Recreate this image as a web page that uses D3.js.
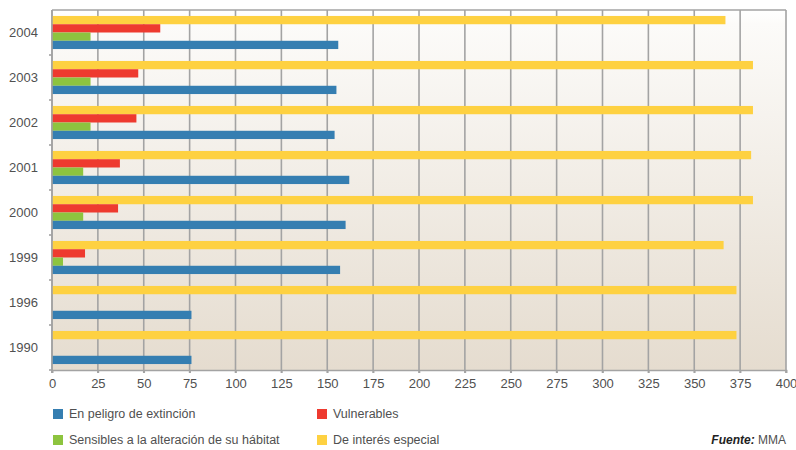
<!DOCTYPE html>
<html>
<head>
<meta charset="utf-8">
<script src="https://cdn.jsdelivr.net/npm/d3@7/dist/d3.min.js"></script>
<style>
  html, body { margin: 0; padding: 0; background: #ffffff; }
  svg { display: block; }
  text { font-family: "Liberation Sans", "DejaVu Sans", sans-serif; fill: #505050; }
</style>
</head>
<body>
<svg id="chart" width="796" height="450"></svg>
<script>
// Years, top to bottom
const years = ["2004", "2003", "2002", "2001", "2000", "1999", "1996", "1990"];

// Species counts per category of protection
const enPeligro   = [156, 155, 154, 162, 160, 157, 76, 76];
const vulnerables = [59, 47, 46, 37, 36, 18, 0, 0];
const sensibles   = [21, 21, 21, 17, 17, 6, 0, 0];
const interes     = [367, 382, 382, 381, 382, 366, 373, 373];

const xTicks = [0, 25, 50, 75, 100, 125, 150, 175, 200, 225, 250, 275, 300, 325, 350, 375, 400];

// Series stacked within each band, top to bottom
const seriesNames = ["De interés especial", "Vulnerables", "Sensibles a la alteración de su hábitat", "En peligro de extinción"];
const seriesValues = [interes, vulnerables, sensibles, enPeligro];
const seriesColors = ["#fed141", "#ee3a2f", "#8dc43f", "#357eb1"];

// Legend order (two columns, two rows)
const legendItems = [
  { name: "En peligro de extinción", color: "#357eb1" },
  { name: "Vulnerables", color: "#ee3a2f" },
  { name: "Sensibles a la alteración de su hábitat", color: "#8dc43f" },
  { name: "De interés especial", color: "#fed141" }
];

const svg = d3.select("#chart");
const plotL = 52, plotR = 786, plotT = 10, plotB = 370;

const x = d3.scaleLinear().domain([0, 400]).range([plotL, plotR]);
const y = d3.scaleBand().domain(years).range([plotT, plotB]).paddingInner(0).paddingOuter(0);
const inner = d3.scaleBand().domain(d3.range(seriesNames.length))
  .range([0, y.bandwidth()]).paddingOuter(0.72).paddingInner(0);

// Plot background gradient
const defs = svg.append("defs");
const grad = defs.append("linearGradient").attr("id", "bg").attr("x1", 0).attr("y1", 0).attr("x2", 0).attr("y2", 1);
grad.append("stop").attr("offset", "0%").attr("stop-color", "#ffffff");
grad.append("stop").attr("offset", "4%").attr("stop-color", "#fcfbf9");
grad.append("stop").attr("offset", "100%").attr("stop-color", "#e5dccf");

svg.append("rect")
  .attr("x", plotL).attr("y", plotT)
  .attr("width", plotR - plotL).attr("height", plotB - plotT)
  .attr("fill", "url(#bg)");

// Vertical gridlines
svg.append("g")
  .selectAll("line")
  .data(xTicks)
  .join("line")
  .attr("x1", d => x(d)).attr("x2", d => x(d))
  .attr("y1", plotT).attr("y2", plotB + 3)
  .attr("stroke", "#a3a3a3")
  .attr("stroke-width", 1.6);

// Top border
svg.append("line")
  .attr("x1", plotL).attr("x2", plotR)
  .attr("y1", plotT).attr("y2", plotT)
  .attr("stroke", "#a3a3a3").attr("stroke-width", 1.6);

// Bars
seriesValues.forEach((vals, si) => {
  svg.append("g")
    .selectAll("rect")
    .data(years.map((yr, i) => ({ yr, v: vals[i] })).filter(d => d.v > 0))
    .join("rect")
    .attr("x", x(0))
    .attr("y", d => y(d.yr) + inner(si))
    .attr("width", d => x(d.v) - x(0))
    .attr("height", inner.bandwidth())
    .attr("fill", seriesColors[si]);
});

// X axis
const xAxis = svg.append("g")
  .attr("transform", `translate(0,${plotB})`)
  .call(d3.axisBottom(x).tickValues(xTicks).tickSize(3).tickPadding(6));
xAxis.select(".domain").attr("stroke", "#a3a3a3").attr("stroke-width", 1.6);
xAxis.selectAll(".tick line").attr("stroke", "#a3a3a3").attr("stroke-width", 1.6);
xAxis.selectAll(".tick text")
  .attr("font-family", "Liberation Sans, sans-serif")
  .attr("font-size", 13).attr("fill", "#505050");

// Y axis: category labels, ticks between bands
const yAxis = svg.append("g").attr("transform", `translate(${plotL},0)`);
yAxis.append("line")
  .attr("x1", 0).attr("x2", 0).attr("y1", plotT).attr("y2", plotB + 3)
  .attr("stroke", "#a3a3a3").attr("stroke-width", 1.6);
yAxis.selectAll(".ytick")
  .data(years.slice(1).concat(["end"]))
  .join("line")
  .attr("class", "ytick")
  .attr("x1", -3).attr("x2", 0)
  .attr("y1", d => d === "end" ? plotB : y(d))
  .attr("y2", d => d === "end" ? plotB : y(d))
  .attr("stroke", "#a3a3a3").attr("stroke-width", 1.6);
yAxis.selectAll(".ylabel")
  .data(years)
  .join("text")
  .attr("class", "ylabel")
  .attr("x", -14)
  .attr("y", d => y(d) + y.bandwidth() / 2)
  .attr("dy", "0.35em")
  .attr("text-anchor", "end")
  .attr("font-size", 13)
  .text(d => d);

// Legend
const legendCols = [53, 317];
const legendRows = [414, 440];
const legend = svg.append("g");
legendItems.forEach((item, i) => {
  const lx = legendCols[i % 2], ly = legendRows[Math.floor(i / 2)];
  legend.append("rect")
    .attr("x", lx).attr("y", ly - 5)
    .attr("width", 10).attr("height", 10)
    .attr("fill", item.color);
  legend.append("text")
    .attr("x", lx + 16).attr("y", ly)
    .attr("dy", "0.35em")
    .attr("font-size", 12.5)
    .text(item.name);
});

// Source note
const src = svg.append("text")
  .attr("x", 786).attr("y", 440)
  .attr("dy", "0.35em")
  .attr("text-anchor", "end")
  .attr("font-size", 12);
src.append("tspan").attr("font-weight", "bold").attr("font-style", "italic").attr("fill", "#222").text("Fuente:");
src.append("tspan").text(" MMA");
</script>
</body>
</html>
